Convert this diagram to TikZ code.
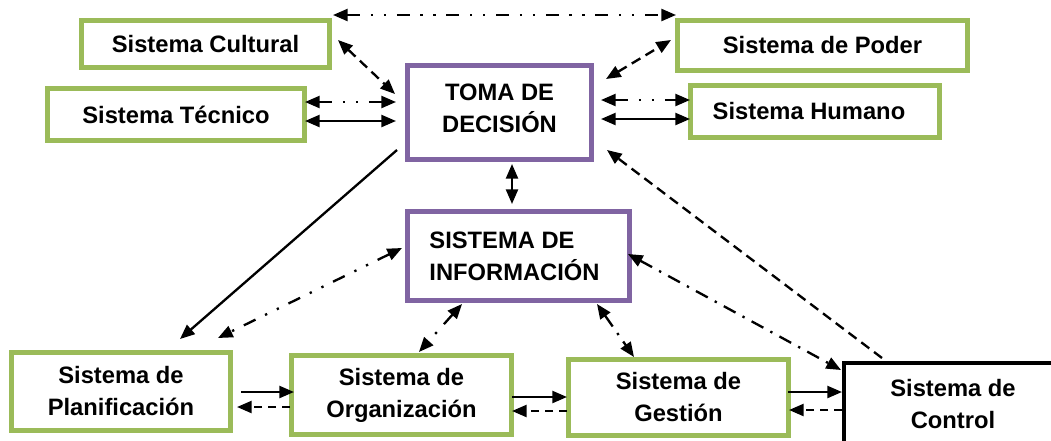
\documentclass[tikz,border=0pt]{standalone}
\usepackage{fontspec}
\setmainfont{Liberation Sans}
\usetikzlibrary{arrows.meta}
\definecolor{boxgreen}{HTML}{9BBB59}
\definecolor{boxpurple}{HTML}{8064A2}
\tikzset{
  box/.style={draw, line width=3.75pt, inner sep=0pt, font=\bfseries\fontsize{17.8pt}{24pt}\selectfont, align=center},
  greenbox/.style={box, draw=boxgreen},
  purplebox/.style={box, draw=boxpurple},
  blackbox/.style={box, draw=black, line width=3pt},
  conn/.style={line width=1.75pt, draw=black},
  tipA/.style={-{Triangle[length=11pt,width=9pt]}},
  tipB/.style={{Triangle[length=11pt,width=9pt]}-{Triangle[length=11pt,width=9pt]}},
  dashedline/.style={dash pattern=on 7.5pt off 4.5pt},
  dashdotline/.style={dash pattern=on 10pt off 6pt on 1.75pt off 6pt},
  dashdotdotline/.style={dash pattern=on 9.75pt off 8pt on 1.75pt off 8pt on 1.75pt off 8pt}
}
\begin{document}
\begin{tikzpicture}[x=0.75pt,y=-0.75pt]
\useasboundingbox (0,0) rectangle (1051,440);
\fill[white] (0,0) rectangle (1051,440);
% boxes
\node[greenbox, minimum width=248*0.75pt, minimum height=47*0.75pt] (cul) at (205.5,44) {Sistema Cultural};
\node[greenbox, minimum width=257*0.75pt, minimum height=52*0.75pt] (tec) at (176,114.5) {Sistema Técnico};
\node[greenbox, minimum width=290*0.75pt, minimum height=50.5*0.75pt] (pod) at (822.5,45.25) {Sistema de Poder};
\node[greenbox, minimum width=249*0.75pt, minimum height=52*0.75pt] (hum) at (815,111.5) {Sistema Humano\hspace*{9pt}};
\node[purplebox, minimum width=184*0.75pt, minimum height=94*0.75pt] (toma) at (499.5,112.5) {TOMA DE\\DECISIÓN\\[-18pt]};
\node[purplebox, align=left, minimum width=222*0.75pt, minimum height=89*0.75pt] (info) at (518.5,256) {SISTEMA DE\\INFORMACIÓN\hspace*{6pt}};
\node[greenbox, minimum width=219*0.75pt, minimum height=78*0.75pt] (plan) at (121,391.5) {Sistema de\\Planificación};
\node[greenbox, minimum width=220*0.75pt, minimum height=79*0.75pt] (org) at (401.5,395) {Sistema de\\Organización};
\node[greenbox, minimum width=220*0.75pt, minimum height=76*0.75pt] (ges) at (678.5,397.5) {Sistema de\\Gestión};
\node[blackbox, minimum width=218*0.75pt, minimum height=83*0.75pt] (con) at (953,404) {Sistema de\\Control};
% connector end points
\coordinate (culTop) at (333,15);
\coordinate (podTop) at (676,15);
\coordinate (culA) at (338,40);
\coordinate (tomaCul) at (395,94);
\coordinate (tecA) at (305,102);
\coordinate (tomaTecA) at (396,102);
\coordinate (tecB) at (305,121);
\coordinate (tomaTecB) at (396,121);
\coordinate (podA) at (671,40);
\coordinate (tomaPod) at (606,79);
\coordinate (humA) at (690,100);
\coordinate (tomaHumA) at (601,100);
\coordinate (humB) at (690,119);
\coordinate (tomaHumB) at (601,119);
\coordinate (tomaBot) at (512,164);
\coordinate (infoTop) at (512,204);
\coordinate (tomaPlan) at (397,150);
\coordinate (planTopA) at (180,339);
\coordinate (infoPlan) at (402,248);
\coordinate (planTopB) at (218,338);
\coordinate (infoOrg) at (462,304);
\coordinate (orgTop) at (419,352);
\coordinate (infoGes) at (597,304);
\coordinate (gesTop) at (634,357);
\coordinate (infoCon) at (628,254);
\coordinate (conInfo) at (841,370);
\coordinate (conTop) at (882,358);
\coordinate (tomaCon) at (607,150);
\coordinate (planR1) at (241,392);
\coordinate (orgL1) at (294,392);
\coordinate (orgL2) at (290,407);
\coordinate (planR2) at (237,407);
\coordinate (orgR1) at (512,397);
\coordinate (gesL1) at (567,397);
\coordinate (gesL2) at (567,411);
\coordinate (orgR2) at (512,411);
\coordinate (gesR1) at (788,392);
\coordinate (conL1) at (842,392);
\coordinate (conL2) at (842,410);
\coordinate (gesR2) at (789,410);
% connectors
\draw[conn, tipB, dashdotdotline] (culTop) -- (podTop);
\draw[conn, tipB, dashedline] (culA) -- (tomaCul);
\draw[conn, tipB, dashdotdotline] (tecA) -- (tomaTecA);
\draw[conn, tipB] (tecB) -- (tomaTecB);
\draw[conn, tipB, dashedline] (tomaPod) -- (podA);
\draw[conn, tipB, dashdotdotline] (tomaHumA) -- (humA);
\draw[conn, tipB] (tomaHumB) -- (humB);
\draw[conn, tipB] (tomaBot) -- (infoTop);
\draw[conn, tipA] (tomaPlan) -- (planTopA);
\draw[conn, tipB, dashdotdotline] (infoPlan) -- (planTopB);
\draw[conn, tipB, dashdotdotline] (infoOrg) -- (orgTop);
\draw[conn, tipB, dashdotline] (infoGes) -- (gesTop);
\draw[conn, tipB, dashdotline] (infoCon) -- (conInfo);
\draw[conn, tipA, dashedline] (conTop) -- (tomaCon);
\draw[conn, tipA] (planR1) -- (orgL1);
\draw[conn, tipA, dash pattern=on 6pt off 4.5pt] (orgL2) -- (planR2);
\draw[conn, tipA] (orgR1) -- (gesL1);
\draw[conn, tipA, dash pattern=on 6pt off 4.5pt] (gesL2) -- (orgR2);
\draw[conn, tipA] (gesR1) -- (conL1);
\draw[conn, tipA, dash pattern=on 6pt off 4.5pt] (conL2) -- (gesR2);
\end{tikzpicture}
\end{document}
